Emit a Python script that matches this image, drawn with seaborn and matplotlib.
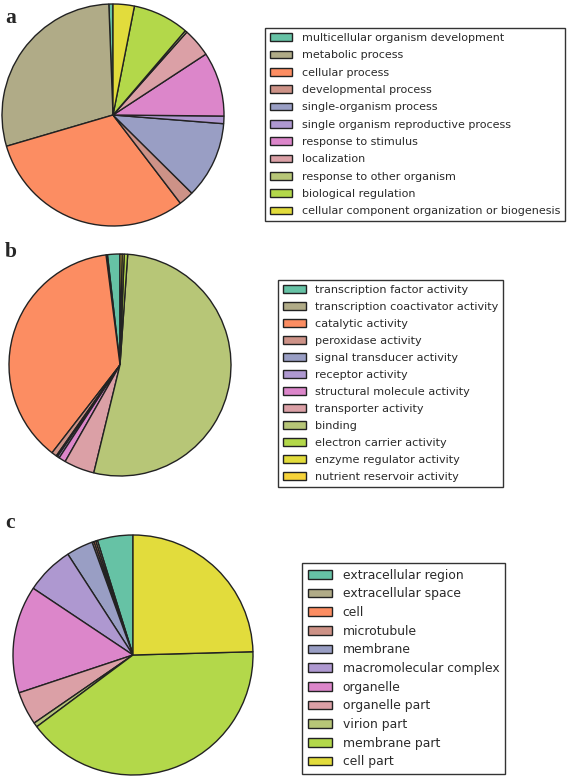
import matplotlib
matplotlib.use("Agg")
import matplotlib.pyplot as plt
import seaborn as sns

# shared colour list (same order in every panel)
go_colors = ['#66c2a5', '#b0ab87', '#fc8d62', '#cd9287', '#999ec4', '#ae98d0',
             '#dc86ca', '#dba0a6', '#b7c677', '#b3d84a', '#e2dc3c', '#f6d33a']

# a - biological process
bp_labels = ['multicellular organism development', 'metabolic process', 'cellular process',
             'developmental process', 'single-organism process',
             'single organism reproductive process', 'response to stimulus', 'localization',
             'response to other organism', 'biological regulation',
             'cellular component organization or biogenesis']
bp_values = [0.6, 29.0, 30.9, 2.2, 11.2, 1.1, 9.4, 4.2, 0.3, 8.2, 3.1]

# b - molecular function
mf_labels = ['transcription factor activity', 'transcription coactivator activity',
             'catalytic activity', 'peroxidase activity', 'signal transducer activity',
             'receptor activity', 'structural molecule activity', 'transporter activity',
             'binding', 'electron carrier activity', 'enzyme regulator activity',
             'nutrient reservoir activity']
mf_values = [1.8, 0.2, 37.3, 0.75, 0.2, 0.3, 1.0, 4.4, 52.4, 0.5, 0.3, 0.3]

# c - cellular component
cc_labels = ['extracellular region', 'extracellular space', 'cell', 'microtubule', 'membrane',
             'macromolecular complex', 'organelle', 'organelle part', 'virion part',
             'membrane part', 'cell part']
cc_values = [4.8, 0.25, 0.25, 0.25, 3.6, 6.5, 14.5, 4.5, 0.6, 40.3, 24.6]

sns.set_style("white")

W, H = 567, 781
fig = plt.figure(figsize=(W / 100, H / 100), dpi=100)


def draw_panel(letter, labels, values, cx, cy, r, leg_xy, fsize, lspace, letter_y):
    pal = sns.color_palette(go_colors[:len(values)])
    ax = fig.add_axes([(cx - r) / W, (H - cy - r) / H, 2 * r / W, 2 * r / H])
    wedges, _ = ax.pie(values, colors=pal, startangle=90, counterclock=True,
                       wedgeprops=dict(edgecolor='#222222', linewidth=1.0))
    ax.set_xlim(-1, 1)
    ax.set_ylim(-1, 1)
    ax.set_aspect('auto')
    ax.axis('off')

    leg = fig.legend(wedges, labels, loc='upper left',
                     bbox_to_anchor=(leg_xy[0] / W, 1 - leg_xy[1] / H),
                     bbox_transform=fig.transFigure, borderaxespad=0,
                     fontsize=fsize, fancybox=False, framealpha=1,
                     labelspacing=lspace, handlelength=2.0, handleheight=0.7,
                     handletextpad=0.85, borderpad=0.45)
    leg.get_frame().set_edgecolor('#333333')
    leg.get_frame().set_linewidth(1.0)
    for t in leg.get_texts():
        t.set_color('#2a2a2a')

    fig.text(5 / W, 1 - letter_y / H, letter, fontsize=15.5, fontweight='bold',
             family=['Liberation Serif', 'DejaVu Serif'], va='baseline', ha='left')


draw_panel('a', bp_labels, bp_values, 113, 115, 111, (265, 28), 8.0, 0.66, 23)
draw_panel('b', mf_labels, mf_values, 120, 365, 111, (278, 280), 8.1, 0.62, 257)
draw_panel('c', cc_labels, cc_values, 133, 655, 120, (302, 563), 8.9, 0.46, 528)

fig.savefig('out.png', dpi=100)
plt.close(fig)
